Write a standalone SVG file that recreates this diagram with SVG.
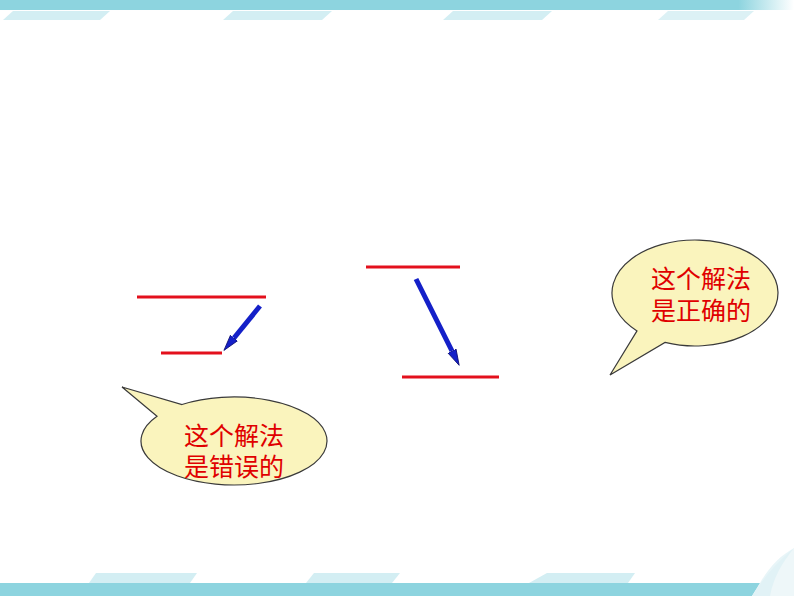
<svg xmlns="http://www.w3.org/2000/svg" width="794" height="596" viewBox="0 0 794 596">
  <style>
    .band { fill: #8dd4df; }
    .para { fill: #d3eef3; }
    .red { stroke: #e3101c; stroke-width: 3; }
    .arrow { stroke: #1420c8; stroke-width: 5; fill: none; }
    .bubble { fill: #faf4bd; stroke: #3a3a3a; stroke-width: 1.2; }
    .txt { font-family: "Liberation Sans", "Noto Sans CJK SC", sans-serif; font-size: 25px; fill: #e00000; text-anchor: middle; }
  </style>
  <defs>
    <linearGradient id="topfade" x1="0" y1="0" x2="1" y2="0">
      <stop offset="0.93" stop-color="#8dd4df"/>
      <stop offset="1" stop-color="#ffffff"/>
    </linearGradient>
    <marker id="head" markerUnits="userSpaceOnUse" markerWidth="18" markerHeight="12" refX="0" refY="5" orient="auto">
      <path d="M0,0.5 L16,5 L0,9.5 Z" fill="#1420c8" stroke="#0a0a70" stroke-width="0.8"/>
    </marker>
  </defs>

  <rect x="0" y="0" width="794" height="596" fill="#ffffff"/>

  <g id="top-band">
    <rect x="0" y="0" width="794" height="10" fill="url(#topfade)"/>
    <polygon class="para" points="13,11 110,11 100,20 3,20"/>
    <polygon class="para" points="233,11 332,11 322,20 223,20"/>
    <polygon class="para" points="453,11 552,11 542,20 443,20"/>
    <polygon class="para" points="668,11 754,11 744,20 658,20" opacity="0.8"/>
  </g>

  <g id="bottom-band">
    <polygon class="para" points="96,573 197,573 190,583 89,583"/>
    <polygon class="para" points="314,573 400,573 392,583 306,583"/>
    <polygon class="para" points="547,573 635,573 628,583 529,583"/>
    <path class="band" d="M0,583 L760,583 L752,596 L0,596 Z"/>
    <path d="M752,596 C760,585 768,570 794,548 L794,596 Z" fill="#eef7f9"/>
    <path d="M760,583 C770,566 780,556 794,548 C785,560 775,572 770,596 L752,596 Z" fill="#d9eef3" opacity="0.6"/>
  </g>

  <g id="left-lines">
    <line class="red" x1="137" y1="297" x2="266" y2="297"/>
    <line class="red" x1="161" y1="353" x2="222" y2="353"/>
  </g>

  <g id="middle-lines">
    <line class="red" x1="366" y1="267" x2="460" y2="267"/>
    <line class="red" x1="402" y1="377" x2="499" y2="377"/>
  </g>

  <g id="connectors">
    <line class="arrow" x1="260" y1="306" x2="234" y2="338" marker-end="url(#head)"/>
    <line class="arrow" x1="416" y1="279" x2="452" y2="351" marker-end="url(#head)"/>
  </g>

  <g id="bubble-wrong">
    <path class="bubble" d="M182,404.5 A93,44 0 1,1 157,416.3 L122,387 Z"/>
    <text class="txt" x="234" y="445">这个解法</text>
    <text class="txt" x="234" y="476">是错误的</text>
  </g>

  <g id="bubble-right">
    <path class="bubble" d="M637,330.9 A83,53 0 1,1 665,342.4 L610,375 Z"/>
    <text class="txt" x="701" y="288">这个解法</text>
    <text class="txt" x="701" y="320">是正确的</text>
  </g>
</svg>
